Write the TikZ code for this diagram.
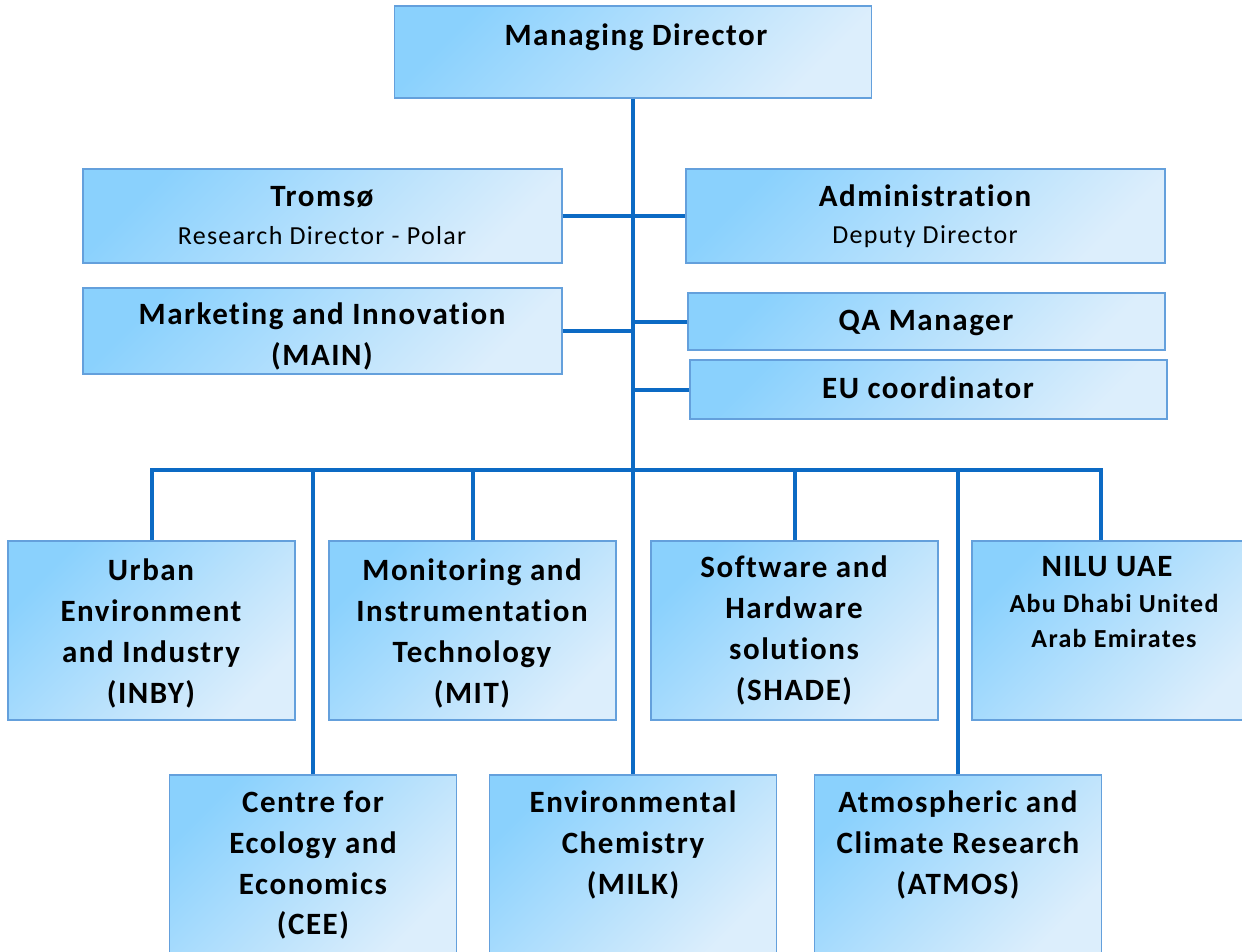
\documentclass[tikz,border=0pt]{standalone}
\usepackage{fontspec}
\setmainfont[Ligatures=NoCommon]{Carlito}
\definecolor{cA}{RGB}{138,209,253}
\definecolor{cB}{RGB}{220,238,252}
\definecolor{bord}{RGB}{100,160,220}
\definecolor{link}{RGB}{12,106,196}
\tikzset{
  box/.style={draw=bord, line width=1.3pt, top color=cA, bottom color=cB, shading angle=45,
    inner sep=0pt, minimum width=#1},
  box/.default=287pt,
  ttl/.style={anchor=north, inner sep=0pt, align=center, font=\fontsize{31}{40.7}\selectfont\bfseries\addfontfeature{LetterSpace=5}},
  sub/.style={anchor=north, inner sep=0pt, align=center, font=\fontsize{26}{30}\selectfont\addfontfeature{LetterSpace=5}},
  subb/.style={anchor=north, inner sep=0pt, align=center, font=\fontsize{26}{35}\selectfont\bfseries\addfontfeature{LetterSpace=5}},
  conn/.style={draw=link, line width=4pt}
}
\begin{document}
\begin{tikzpicture}[x=1pt,y=-1pt]
\clip (0,0) rectangle (1242,952);
\fill[white] (0,0) rectangle (1242,952);
% top boxes
\node[box=477pt, minimum height=92pt] (md) at (633,52) {};
\node[box=479pt, minimum height=94pt] (trom) at (322.5,216) {};
\node[box=479pt, minimum height=94pt] (adm) at (925.5,216) {};
\node[box=479pt, minimum height=86pt] (main) at (322.5,331) {};
\node[box=477pt, minimum height=57pt] (qa) at (926.5,321.5) {};
\node[box=477pt, minimum height=59pt] (eu) at (928.5,389.5) {};
% bottom rows
\node[box, minimum height=179pt] (inby) at (151.5,630.5) {};
\node[box, minimum height=179pt] (mit) at (472.5,630.5) {};
\node[box, minimum height=179pt] (shade) at (794.5,630.5) {};
\node[box, minimum height=179pt] (uae) at (1115.5,630.5) {};
\node[box, minimum height=179pt] (cee) at (313,864.5) {};
\node[box, minimum height=179pt] (milk) at (633,864.5) {};
\node[box, minimum height=179pt] (atmos) at (958,864.5) {};
% connectors
\coordinate (bus) at (633,470);
\path[conn] (md.south) -- (milk.north);
\path[conn] (trom.east) -- (adm.west);
\path[conn] (main.east) -- (main.east -| md.south);
\path[conn] (qa.west) -- (qa.west -| md.south);
\path[conn] (eu.west) -- (eu.west -| md.south);
\path[conn] (inby.north) |- (bus) -| ([xshift=-14.5pt]uae.north);
\path[conn] (cee.north) -- (cee.north |- bus);
\path[conn] (mit.north) -- (mit.north |- bus);
\path[conn] (shade.north) -- (shade.north |- bus);
\path[conn] (atmos.north) -- (atmos.north |- bus);
% texts
\node[ttl] (tmd) at (636,24) {Managing Director};
\node[ttl] (ttrom) at (322,186) {Tromsø};
\node[sub] (strom) at (322,226) {Research Director - Polar};
\node[ttl] (tadm) at (925,185) {Administration};
\node[sub] (sadm) at (925,225) {Deputy Director};
\node[ttl] (tmain) at (322,303) {Marketing and Innovation\\(MAIN)};
\node[ttl] (tqa) at (926,310) {QA Manager};
\node[ttl] (teu) at (928,377) {EU coordinator};
\node[ttl] (tinby) at (151,559) {Urban\\Environment\\and Industry\\(INBY)};
\node[ttl] (tmit) at (472,559) {Monitoring and\\Instrumentation\\Technology\\(MIT)};
\node[ttl] (tshade) at (794,556) {Software and\\Hardware\\solutions\\(SHADE)};
\node[ttl] (tuae) at (1107,556) {NILU UAE};
\node[subb] (suae) at (1114,594) {Abu Dhabi United\\Arab Emirates};
\node[ttl] (tcee) at (313,791) {Centre for\\Ecology and\\Economics\\(CEE)};
\node[ttl] (tmilk) at (633,791) {Environmental\\Chemistry\\(MILK)};
\node[ttl] (tatmos) at (958,791) {Atmospheric and\\Climate Research\\(ATMOS)};
\end{tikzpicture}
\end{document}
